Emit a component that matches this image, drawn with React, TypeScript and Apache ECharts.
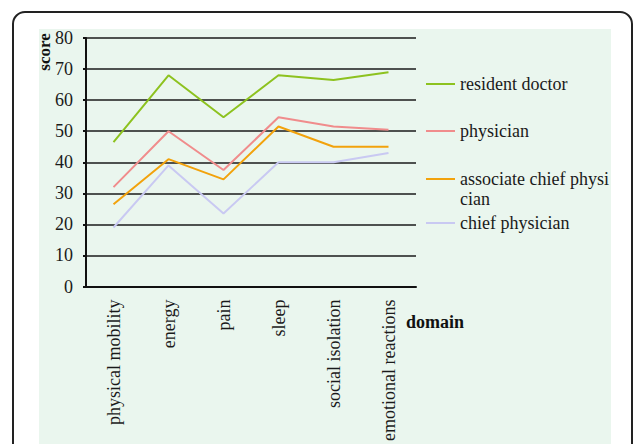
import React, { useEffect, useRef } from "react";
import * as echarts from "echarts";

// Quality-of-life domains (x axis)
const domains = [
  "physical mobility",
  "energy",
  "pain",
  "sleep",
  "social isolation",
  "emotional reactions",
];

// Mean scores per professional title
const residentDoctor = [46.5, 68, 54.5, 68, 66.5, 69];
const physician = [32, 50, 37.5, 54.5, 51.5, 50.5];
const associateChiefPhysician = [26.5, 41, 34.5, 51.5, 45, 45];
const chiefPhysician = [19, 39, 23.5, 40, 40, 43];

const seriesNames = [
  "resident doctor",
  "physician",
  "associate chief physician",
  "chief physician",
];
const seriesColors = ["#8DC21F", "#F08C8C", "#F2A20C", "#C9C9F2"];

const yMin = 0;
const yMax = 80;
const yStep = 10;

const FONT = "Liberation Serif";

export default function App() {
  const ref = useRef<HTMLDivElement>(null);

  useEffect(() => {
    if (!ref.current) return;
    const chart = echarts.init(ref.current, undefined, { renderer: "svg" });

    const values = [residentDoctor, physician, associateChiefPhysician, chiefPhysician];

    // one legend block per series so each entry sits at its own height
    const legendTops = [75, 122, 149, 214];
    const legends = seriesNames.map((name, i) => ({
      data: [name],
      orient: "vertical" as const,
      left: 426,
      top: legendTops[i],
      padding: 0,
      icon: "rect",
      itemWidth: 29,
      itemHeight: 2,
      selectedMode: false,
      // the long title wraps; a leading empty line keeps the key beside its first line
      formatter: (n: string) =>
        n === "associate chief physician" ? "\nassociate chief physi\ncian" : n,
      textStyle: {
        fontFamily: FONT,
        fontSize: 18,
        color: "#1a1a1a",
        lineHeight: i === 2 ? 20 : 18,
      },
    }));

    chart.setOption({
      animation: false,
      backgroundColor: "#ffffff",
      graphic: [
        {
          type: "rect",
          z: -10,
          shape: { x: 13, y: 12, width: 619, height: 500, r: 12 },
          style: { fill: "#ffffff", stroke: "#222222", lineWidth: 2 },
        },
        {
          type: "rect",
          z: -9,
          shape: { x: 39, y: 29, width: 572, height: 430 },
          style: { fill: "#EAF6EE" },
        },
        {
          type: "text",
          x: 44,
          y: 52,
          rotation: Math.PI / 2,
          style: {
            text: "score",
            fontFamily: FONT,
            fontSize: 17,
            fontWeight: "bold",
            fill: "#111111",
            align: "center",
            verticalAlign: "middle",
          },
        },
        {
          type: "text",
          x: 406,
          y: 322,
          style: {
            text: "domain",
            fontFamily: FONT,
            fontSize: 18,
            fontWeight: "bold",
            fill: "#111111",
            align: "left",
            verticalAlign: "middle",
          },
        },
      ],
      legend: legends,
      grid: { left: 86, top: 38, right: 218, bottom: 156, containLabel: false },
      xAxis: {
        type: "category",
        data: domains,
        boundaryGap: true,
        axisLine: { lineStyle: { color: "#111111", width: 2 } },
        axisTick: { inside: true, length: 8, lineStyle: { color: "#111111", width: 2 } },
        axisLabel: {
          rotate: 90,
          margin: 13,
          interval: 0,
          fontFamily: FONT,
          fontSize: 18,
          color: "#1a1a1a",
        },
      },
      yAxis: {
        type: "value",
        min: yMin,
        max: yMax,
        interval: yStep,
        axisLine: { show: true, lineStyle: { color: "#111111", width: 2 } },
        axisTick: { show: true, length: 3, lineStyle: { color: "#111111", width: 2 } },
        axisLabel: {
          margin: 13,
          fontFamily: FONT,
          fontSize: 18,
          color: "#1a1a1a",
        },
        splitLine: { show: true, lineStyle: { color: "#1a1a1a", width: 1.5 } },
      },
      series: seriesNames.map((name, i) => ({
        name,
        type: "line",
        data: values[i],
        showSymbol: false,
        symbol: "none",
        lineStyle: { color: seriesColors[i], width: 2 },
        itemStyle: { color: seriesColors[i] },
        z: 3,
      })),
    });

    return () => chart.dispose();
  }, []);

  return (
    <div
      ref={ref}
      style={{ position: "fixed", left: 0, top: 0, width: 634, height: 444 }}
    />
  );
}
